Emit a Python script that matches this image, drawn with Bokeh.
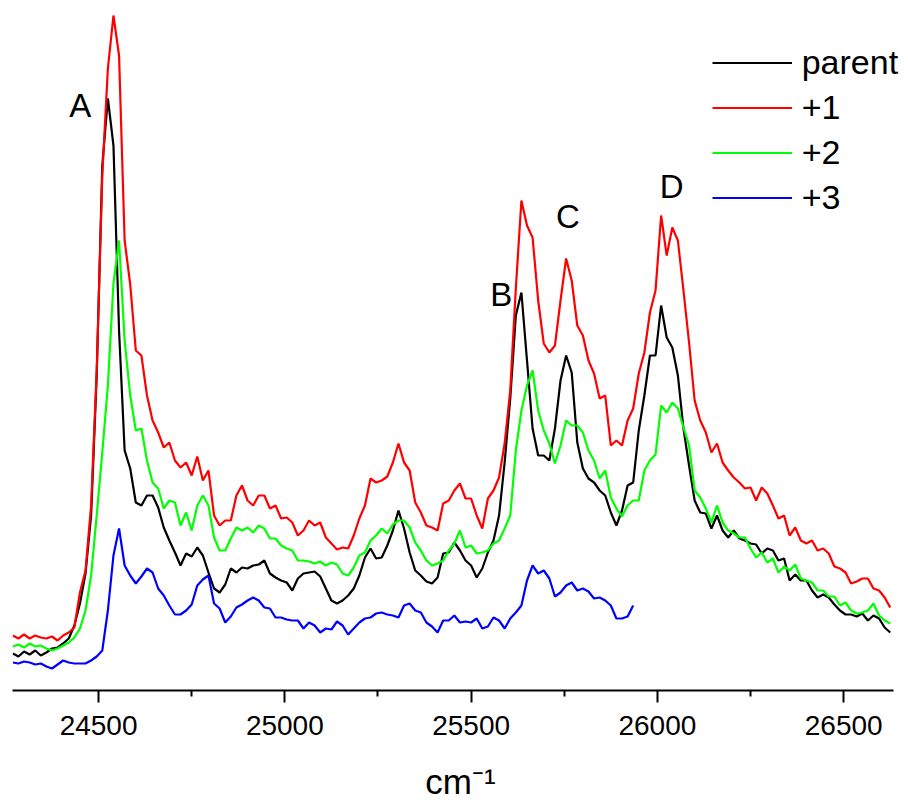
import numpy as np
from bokeh.plotting import figure
from bokeh.models import Range1d, FixedTicker, Legend, LegendItem
from bokeh.embed import file_html
from bokeh.resources import INLINE
from bokeh.core.properties import value

# Spectral sampling grid (cm^-1)
WN_START = 24270.0
WN_STEP = 15.0

# Intensities (arb. units)
parent = [37, 34, 39, 36, 40, 35, 38, 42, 43, 47,
          52, 65, 87, 117, 175, 315, 525, 592, 545, 360,
          240, 222, 188, 185, 195, 195, 183, 163, 150, 138,
          125, 137, 134, 143, 135, 118, 102, 98, 106, 122,
          118, 123, 122, 125, 126, 130, 117, 113, 110, 108,
          100, 112, 117, 118, 119, 114, 102, 90, 87, 90,
          95, 102, 115, 133, 142, 132, 133, 145, 160, 180,
          162, 138, 120, 115, 109, 107, 113, 137, 138, 148,
          140, 130, 125, 113, 122, 138, 150, 175, 228, 292,
          375, 398, 330, 262, 235, 235, 230, 262, 310, 335,
          318, 248, 222, 212, 208, 200, 195, 178, 165, 180,
          205, 208, 260, 295, 335, 335, 385, 353, 343, 315,
          262, 225, 190, 178, 177, 162, 175, 160, 153, 160,
          152, 150, 147, 146, 137, 142, 140, 130, 132, 110,
          116, 110, 110, 100, 93, 96, 93, 86, 80, 76,
          76, 74, 77, 70, 75, 72, 63, 58]

plus1 = [55, 52, 56, 52, 55, 53, 52, 54, 50, 55,
         58, 63, 98, 120, 185, 320, 515, 622, 675, 635,
         450, 406, 340, 335, 295, 270, 258, 243, 248, 230,
         223, 228, 215, 234, 210, 220, 175, 165, 170, 170,
         195, 205, 190, 185, 195, 195, 182, 185, 172, 173,
         168, 155, 160, 170, 165, 168, 153, 147, 141, 143,
         142, 155, 172, 185, 212, 208, 210, 214, 228, 247,
         228, 220, 188, 178, 165, 163, 160, 187, 190, 200,
         207, 192, 192, 175, 162, 192, 200, 213, 247, 300,
         402, 490, 465, 453, 390, 347, 338, 345, 390, 432,
         410, 365, 355, 330, 317, 292, 295, 245, 250, 245,
         270, 282, 317, 338, 378, 400, 475, 435, 463, 450,
         400, 348, 290, 270, 258, 238, 247, 228, 220, 213,
         208, 202, 203, 190, 203, 197, 185, 172, 175, 155,
         163, 150, 147, 150, 140, 142, 137, 124, 122, 118,
         107, 109, 112, 112, 102, 100, 93, 83]

plus2 = [44, 46, 43, 47, 44, 45, 42, 40, 42, 45,
         48, 53, 62, 80, 115, 175, 238, 305, 407, 450,
         350, 295, 260, 262, 230, 208, 202, 182, 190, 188,
         165, 178, 160, 185, 195, 185, 153, 140, 140, 152,
         163, 160, 163, 158, 165, 162, 152, 152, 145, 142,
         140, 130, 130, 129, 127, 129, 125, 128, 126, 117,
         115, 123, 135, 138, 150, 155, 162, 157, 166, 170,
         170, 163, 148, 140, 130, 125, 127, 130, 140, 147,
         160, 143, 145, 137, 138, 140, 147, 150, 162, 175,
         240, 280, 305, 320, 280, 260, 247, 227, 245, 270,
         265, 265, 258, 240, 230, 212, 220, 193, 182, 174,
         185, 190, 190, 220, 230, 236, 285, 278, 288, 282,
         263, 245, 200, 193, 182, 168, 185, 168, 160, 157,
         153, 153, 142, 133, 138, 128, 132, 118, 124, 120,
         126, 112, 110, 108, 100, 100, 94, 94, 85, 88,
         80, 77, 78, 80, 87, 75, 70, 67]

plus3 = [28, 27, 29, 28, 26, 27, 24, 22, 26, 30,
         28, 27, 27, 27, 30, 34, 40, 80, 135, 162,
         125, 115, 107, 114, 122, 118, 102, 95, 85, 76,
         76, 80, 86, 105, 111, 115, 87, 82, 68, 74,
         83, 86, 90, 93, 90, 83, 82, 73, 73, 71,
         70, 70, 62, 68, 65, 58, 62, 61, 69, 65,
         56, 62, 68, 72, 73, 77, 78, 76, 75, 73,
         85, 87, 80, 78, 68, 64, 58, 70, 70, 75,
         68, 69, 68, 72, 62, 64, 73, 70, 62, 72,
         78, 85, 110, 125, 117, 120, 112, 94, 98, 105,
         108, 100, 102, 99, 92, 93, 90, 85, 72, 72,
         74, 85]

series_names = ["parent", "+1", "+2", "+3"]
series_colors = ["#000000", "#ff0000", "#00ff00", "#0000ff"]

X_MIN, X_MAX = 24269, 26634          # extent of the drawn x axis
X_VIEW_MAX = 26674                   # a little room on the right for the legend text
x_ticks = [24500, 25000, 25500, 26000, 26500]
x_minor_ticks = [24750, 25250, 25750, 26250]
x_title = "cm\u207b\u00b9"

peak_labels = ["A", "B", "C", "D"]
peak_wn = [24451, 25581, 25760, 26038]
peak_int = [585, 396, 474, 504]


def grid(n):
    return WN_START + WN_STEP * np.arange(n)


p = figure(width=908, height=801, frame_width=896, frame_height=690,
           output_backend="svg", toolbar_location=None,
           x_range=Range1d(X_MIN, X_VIEW_MAX), y_range=Range1d(0, 690),
           y_axis_type=None,
           min_border_left=12, min_border_right=0,
           min_border_top=0, min_border_bottom=111)
p.outline_line_color = None
p.grid.visible = False
p.background_fill_color = "white"
p.border_fill_color = "white"

renderers = []
for data, col in zip([parent, plus1, plus2, plus3], series_colors):
    r = p.line(grid(len(data)), data, line_color=col, line_width=2.2)
    renderers.append(r)

p.text(x=peak_wn, y=peak_int, text=peak_labels,
       text_font=value("Liberation Sans"), text_font_size="33px",
       text_align="center", text_baseline="alphabetic", text_color="black")

ax = p.xaxis[0]
ax.bounds = (X_MIN, X_MAX)
ax.ticker = FixedTicker(ticks=x_ticks, minor_ticks=x_minor_ticks)
ax.axis_line_width = 2
ax.axis_line_color = "black"
ax.major_tick_line_width = 2
ax.minor_tick_line_width = 2
ax.major_tick_out = 12
ax.major_tick_in = 0
ax.minor_tick_out = 6
ax.minor_tick_in = 0
ax.major_label_text_font = "Liberation Sans"
ax.major_label_text_font_size = "28px"
ax.major_label_text_color = "black"
ax.major_label_standoff = 13
ax.axis_label = x_title
ax.axis_label_text_font = "Liberation Sans"
ax.axis_label_text_font_size = "35px"
ax.axis_label_text_font_style = "normal"
ax.axis_label_text_color = "black"
ax.axis_label_standoff = 24

legend = Legend(items=[LegendItem(label=n, renderers=[r]) for n, r in zip(series_names, renderers)],
                location=(699.7, 471.8), glyph_width=80, glyph_height=41,
                label_height=41, spacing=4, padding=0, margin=0,
                label_standoff=10, label_text_font="Liberation Sans",
                label_text_font_size="34px", label_text_color="black",
                border_line_alpha=0, background_fill_alpha=0)
p.add_layout(legend)

open("out.html", "w").write(file_html(p, INLINE))
